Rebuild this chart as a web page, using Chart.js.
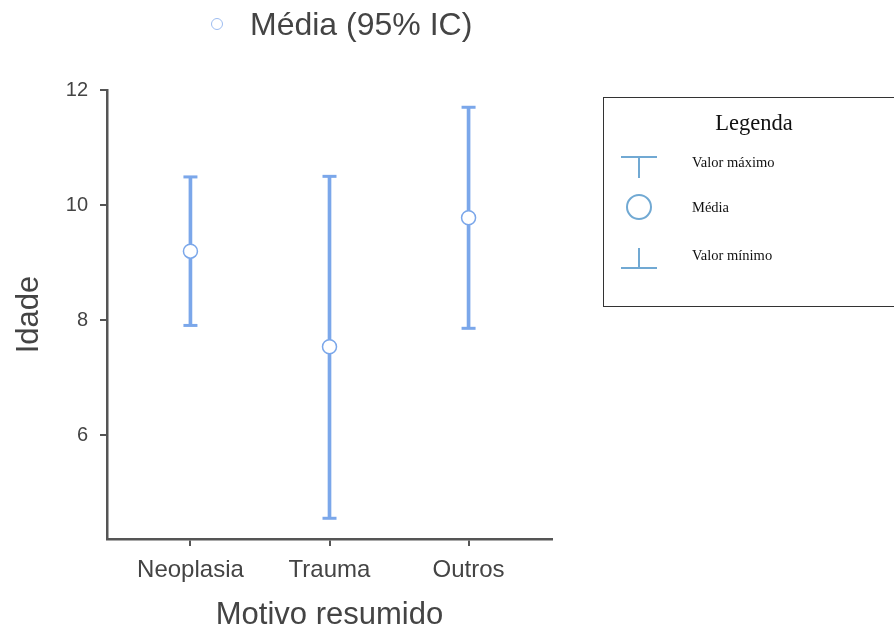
<!DOCTYPE html>
<html>
<head>
<meta charset="utf-8">
<script src="https://cdn.jsdelivr.net/npm/chart.js@4"></script>
<style>
  body { margin: 0; background: #fff; }
  #wrap { position: relative; width: 894px; height: 630px; overflow: hidden; }
  #top-legend { position: absolute; left: 211px; top: 4px; height: 40px; font-family: "Liberation Sans", Arial, sans-serif;
    font-size: 32px; color: #444; display: flex; align-items: center; }
  #top-legend .dot { width: 10px; height: 10px; border: 1.5px solid #9dbcf0; border-radius: 50%; margin-right: 27px; }
  #key { position: absolute; left: 603px; top: 97px; width: 300px; height: 208px; border: 1px solid #333;
    font-family: "Liberation Serif", "Times New Roman", serif; color: #111; }
  #key h3 { margin: 0; position: absolute; left: 0; width: 300px; top: 12px; font-weight: normal; font-size: 22.5px;
    text-align: center; }
  #key .row { position: absolute; left: 15px; height: 40px; display: flex; align-items: center; font-size: 14.5px; }
  #key .row svg { margin-right: 33px; }
</style>
</head>
<body>
<div id="wrap">
  <canvas id="chart" width="894" height="630"></canvas>
  <div id="top-legend"><span class="dot"></span>Média (95% IC)</div>
  <div id="key">
    <h3>Legenda</h3>
    <div class="row" style="top:44px">
      <svg width="40" height="32"><path d="M2 11 H38 M20 11 V32" stroke="#71a9d3" stroke-width="2" fill="none"/></svg>Valor máximo
    </div>
    <div class="row" style="top:89px">
      <svg width="40" height="30"><circle cx="20" cy="15" r="12" stroke="#71a9d3" stroke-width="2" fill="none"/></svg>Média
    </div>
    <div class="row" style="top:137px">
      <svg width="40" height="30"><path d="M2 28 H38 M20 28 V8" stroke="#71a9d3" stroke-width="2" fill="none"/></svg>Valor mínimo
    </div>
  </div>
</div>
<script>
const categories = ['Neoplasia', 'Trauma', 'Outros'];
const meanValues = [9.20, 7.54, 9.78];
const maxValues = [10.49, 10.50, 11.70];
const minValues = [7.91, 4.56, 7.86];
const yTicks = [6, 8, 10, 12];

const BLUE = '#7ba7ea';
const AXIS = '#555';
const FONT = '"Liberation Sans", Arial, sans-serif';

// x positions 1..n on a linear axis so the spacing can be tuned
const pos = categories.map((c, i) => i + 1);

new Chart(document.getElementById('chart'), {
  type: 'bar',
  data: {
    datasets: [
      {
        label: 'range',
        data: pos.map((x, i) => ({ x: x, y: [minValues[i], maxValues[i]] })),
        backgroundColor: BLUE,
        barThickness: 3,
        order: 3
      },
      {
        type: 'scatter',
        label: 'max',
        data: pos.map((x, i) => ({ x: x, y: maxValues[i] })),
        pointStyle: 'line',
        pointRadius: 7,
        borderWidth: 3,
        borderColor: BLUE,
        order: 2
      },
      {
        type: 'scatter',
        label: 'min',
        data: pos.map((x, i) => ({ x: x, y: minValues[i] })),
        pointStyle: 'line',
        pointRadius: 7,
        borderWidth: 3,
        borderColor: BLUE,
        order: 2
      },
      {
        type: 'scatter',
        label: 'Média (95% IC)',
        data: pos.map((x, i) => ({ x: x, y: meanValues[i] })),
        pointStyle: 'circle',
        pointRadius: 7,
        borderWidth: 1.5,
        borderColor: BLUE,
        backgroundColor: '#fff',
        order: 1
      }
    ]
  },
  options: {
    responsive: false,
    animation: false,
    layout: { padding: { top: 90, right: 342, left: 0, bottom: 0 } },
    plugins: { legend: { display: false }, tooltip: { enabled: false } },
    scales: {
      x: {
        type: 'linear',
        offset: false,
        min: 0.4,
        max: 3.6,
        afterBuildTicks: axis => { axis.ticks = pos.map(v => ({ value: v })); },
        afterFit: axis => { axis.height = 91; },
        ticks: {
          callback: v => categories[v - 1],
          color: '#444',
          font: { family: FONT, size: 24 },
          padding: 10
        },
        grid: { offset: false, drawOnChartArea: false, drawTicks: true, tickLength: 7, color: AXIS, lineWidth: 2 },
        border: { display: true, color: AXIS, width: 2.5 },
        title: { display: true, text: 'Motivo resumido', color: '#444', font: { family: FONT, size: 31 }, padding: { top: 0, bottom: -4 } }
      },
      y: {
        min: 4.2,
        max: 12,
        afterBuildTicks: axis => { axis.ticks = yTicks.map(v => ({ value: v })); },
        afterFit: axis => { axis.width = 107; },
        ticks: {
          color: '#444',
          font: { family: FONT, size: 20 },
          padding: 12
        },
        grid: { drawOnChartArea: false, drawTicks: true, tickLength: 7, color: AXIS, lineWidth: 2 },
        border: { display: true, color: AXIS, width: 2.5 },
        title: { display: true, text: 'Idade', color: '#444', font: { family: FONT, size: 31 }, padding: { top: 11, bottom: 0 } }
      }
    }
  }
});
</script>
</body>
</html>
